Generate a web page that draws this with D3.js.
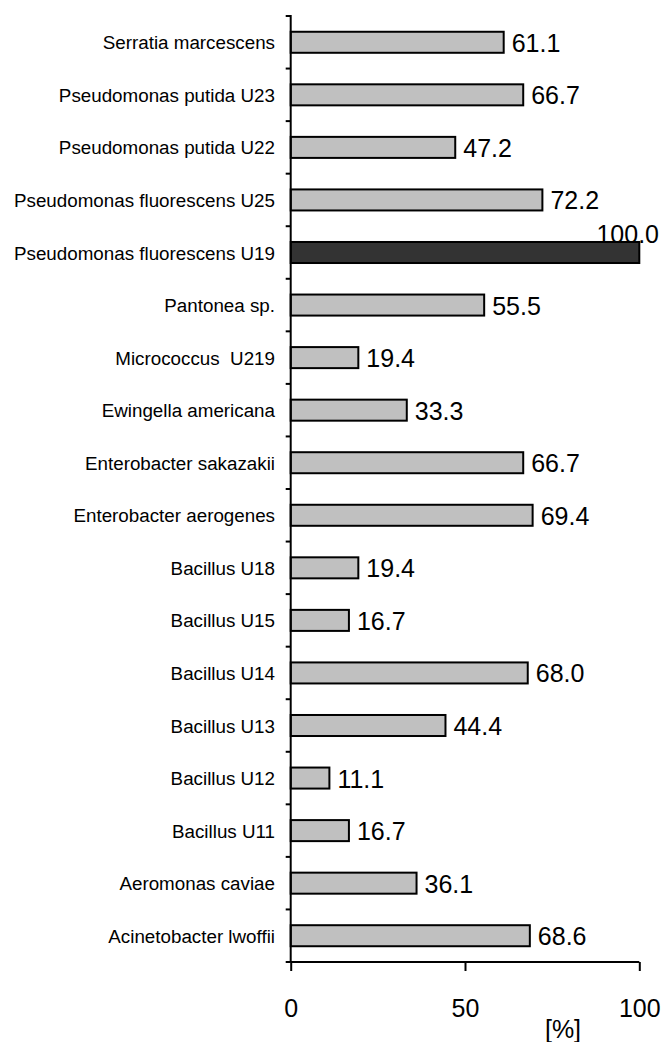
<!DOCTYPE html>
<html>
<head>
<meta charset="utf-8">
<script src="https://cdn.jsdelivr.net/npm/d3@7"></script>
<style>
html,body{margin:0;padding:0;background:#fff;}
svg{display:block;}
text{font-family:"Liberation Sans",Arial,sans-serif;fill:#000;}
</style>
</head>
<body>
<svg id="chart" width="664" height="1042"></svg>
<script>
const categories = [
  "Serratia marcescens",
  "Pseudomonas putida U23",
  "Pseudomonas putida U22",
  "Pseudomonas fluorescens U25",
  "Pseudomonas fluorescens U19",
  "Pantonea sp.",
  "Micrococcus  U219",
  "Ewingella americana",
  "Enterobacter sakazakii",
  "Enterobacter aerogenes",
  "Bacillus U18",
  "Bacillus U15",
  "Bacillus U14",
  "Bacillus U13",
  "Bacillus U12",
  "Bacillus U11",
  "Aeromonas caviae",
  "Acinetobacter lwoffii"
];
const values = [61.1, 66.7, 47.2, 72.2, 100.0, 55.5, 19.4, 33.3, 66.7, 69.4, 19.4, 16.7, 68.0, 44.4, 11.1, 16.7, 36.1, 68.6];
const highlight = "Pseudomonas fluorescens U19";
const xTicks = [0, 50, 100];
const xUnit = "[%]";

const svg = d3.select("#chart");
const W = 664;
const x0 = 290.7, x1 = 639.3, yTop = 16, yBot = 962;

const x = d3.scaleLinear().domain([0, 100]).range([x0, x1]);
const y = d3.scaleBand().domain(categories).range([yTop, yBot]).paddingInner(0.6).paddingOuter(0.3);
const gap = (y.step() - y.bandwidth()) / 2;

// bars
svg.append("g").selectAll("rect").data(categories).join("rect")
  .attr("x", x(0))
  .attr("y", d => y(d))
  .attr("width", (d, i) => x(values[i]) - x(0))
  .attr("height", y.bandwidth())
  .attr("fill", d => d === highlight ? "#333333" : "#c0c0c0")
  .attr("stroke", "#000")
  .attr("stroke-width", 2);

// value labels
svg.append("g").selectAll("text").data(categories).join("text")
  .each(function(d, i) {
    const t = d3.select(this);
    const label = values[i].toFixed(1);
    const cy = y(d) + y.bandwidth() / 2;
    const xe = x(values[i]) + 8;
    const est = label.length * 13.5;
    if (xe + est > W) {
      t.attr("x", W - 5).attr("y", y(d) + 1).attr("text-anchor", "end");
    } else {
      t.attr("x", xe).attr("y", cy + 9.5).attr("text-anchor", "start");
    }
    t.text(label);
  })
  .style("font-size", "25px");

// y axis line
svg.append("line")
  .attr("x1", x0).attr("x2", x0)
  .attr("y1", yTop - 1).attr("y2", yBot)
  .attr("stroke", "#000").attr("stroke-width", 2);

// y ticks at category boundaries
const bounds = categories.map(c => y(c) - gap).concat([yBot]);
svg.append("g").selectAll("line").data(bounds).join("line")
  .attr("x1", x0 - 5).attr("x2", x0)
  .attr("y1", d => d).attr("y2", d => d)
  .attr("stroke", "#000").attr("stroke-width", 2);

// category labels
svg.append("g").selectAll("text").data(categories).join("text")
  .attr("x", 275)
  .attr("y", d => y(d) + y.bandwidth() / 2 + 7)
  .attr("text-anchor", "end")
  .style("font-size", "18.8px")
  .style("white-space", "pre")
  .attr("xml:space", "preserve")
  .text(d => d);

// x axis
const xAxis = d3.axisBottom(x).tickValues(xTicks).tickSize(9).tickPadding(28).tickFormat(d3.format("d"));
const gx = svg.append("g").attr("transform", `translate(0,${yBot})`).call(xAxis);
gx.select(".domain").attr("stroke", "#000").attr("stroke-width", 2).attr("d", `M${x0},0H${x1}`);
gx.selectAll(".tick line").attr("stroke", "#000").attr("stroke-width", 2);
gx.selectAll(".tick text")
  .attr("font-family", null)
  .style("font-size", "25px")
  .attr("fill", "#000");

// unit
svg.append("text")
  .attr("x", 563).attr("y", 1038)
  .attr("text-anchor", "middle")
  .style("font-size", "25px")
  .text(xUnit);
</script>
</body>
</html>
